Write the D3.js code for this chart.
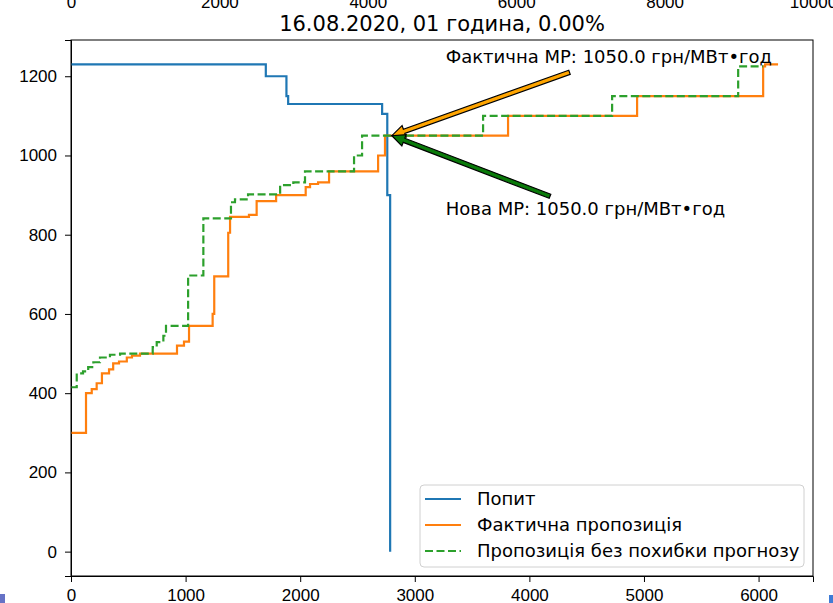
<!DOCTYPE html>
<html lang="uk">
<head>
  <meta charset="UTF-8">
  <title>16.08.2020, 01 година</title>
  <style>
    body { margin: 0; background: #fff; }
    svg { display: block; font-family: "DejaVu Sans", sans-serif; }
    .axis text { font-size: 17px; fill: #000; }
    .axis path, .axis line { stroke: #000; stroke-width: 1; }
  </style>
</head>
<body>
  <svg width="833" height="603"></svg>

  <script src="https://d3js.org/d3.v7.min.js"></script>
  <script>
    // demand curve (step after): quantity, price
    const demandQty   = [0, 1700, 1880, 1895, 2715, 2760, 2785];
    const demandPrice = [1230, 1200, 1150, 1130, 1105, 900, 0];

    // actual supply
    const supplyQty = [0, 131, 181, 224, 270, 332, 368, 419, 487, 532, 602, 925, 986, 1030,
      1236, 1250, 1372, 1388, 1553, 1620, 1790, 2048, 2086, 2156, 2252, 2680, 2740,
      3814, 4940, 6040, 6057, 6170];
    const supplyPrice = [300, 400, 410, 425, 450, 460, 475, 480, 490, 495, 500, 520, 530, 570,
      600, 695, 805, 845, 850, 885, 900, 920, 928, 932, 960, 1000, 1050,
      1100, 1150, 1225, 1230, 1230];

    // supply without forecast error
    const noErrQty = [0, 50, 105, 150, 195, 253, 340, 428, 713, 748, 806, 829, 1022, 1155,
      1396, 1431, 1545, 1825, 1940, 2042, 2470, 2540, 3596, 4722, 5822, 6040];
    const noErrPrice = [415, 450, 455, 466, 478, 490, 497, 500, 516, 529, 545, 570, 697, 841,
      882, 889, 902, 925, 932, 960, 1000, 1050, 1100, 1150, 1225, 1225];

    const xTicks = [0, 1000, 2000, 3000, 4000, 5000, 6000];
    const yTicks = [0, 200, 400, 600, 800, 1000, 1200];
    const topTicks = [0, 2000, 4000, 6000, 8000, 10000];

    const seriesNames = ["Попит", "Фактична пропозиція", "Пропозиція без похибки прогнозу"];
    const title = "16.08.2020, 01 година, 0.00%";

    // annotations: arrow tip, arrow tail, text start (data coords)
    const annotations = [
      { label: "Фактична МР: 1050.0 грн/МВт•год", tip: [2800, 1050], tail: [4350, 1210], at: [3270, 1233], fill: "#ffa500" },
      { label: "Нова МР: 1050.0 грн/МВт•год",     tip: [2800, 1050], tail: [4180, 897],  at: [3270, 850],  fill: "#0a7a0a" }
    ];

    const m = { left: 71, right: 813, top: 40, bottom: 576 };
    const svg = d3.select("svg");

    const x = d3.scaleLinear().domain([0, 6475]).range([m.left, m.right]);
    const y = d3.scaleLinear().domain([-61.5, 1291.5]).range([m.bottom, m.top]);
    const xTop = d3.scaleLinear().domain([0, 10000]).range([m.left, m.right]);

    // cut-off tick labels of the panel above
    svg.append("g")
      .attr("class", "axis")
      .attr("transform", "translate(0,-17)")
      .call(d3.axisBottom(xTop).tickValues(topTicks).tickFormat(d3.format("d")).tickSize(6).tickPadding(7))
      .call(g => g.select(".domain").remove());

    svg.append("text")
      .attr("x", (m.left + m.right) / 2)
      .attr("y", 31)
      .attr("text-anchor", "middle")
      .style("font-size", "21px")
      .text(title);

    // axes
    svg.append("g")
      .attr("class", "axis")
      .attr("transform", `translate(0,${m.bottom})`)
      .call(d3.axisBottom(x).tickValues(xTicks).tickFormat(d3.format("d")).tickSize(6).tickPadding(7));

    svg.append("g")
      .attr("class", "axis")
      .attr("transform", `translate(${m.left},0)`)
      .call(d3.axisLeft(y).tickValues(yTicks).tickFormat(d3.format("d")).tickSize(6).tickPadding(8));

    const plot = svg.append("g");

    const line = d3.line()
      .x(d => x(d[0]))
      .y(d => y(d[1]))
      .curve(d3.curveStepAfter);

    const series = [
      { pts: d3.zip(demandQty, demandPrice), color: "#1f77b4", dash: null },
      { pts: d3.zip(supplyQty, supplyPrice), color: "#ff7f0e", dash: null },
      { pts: d3.zip(noErrQty, noErrPrice),   color: "#2ca02c", dash: "8,3.5" }
    ];

    plot.selectAll(".series")
      .data(series)
      .join("path")
      .attr("class", "series")
      .attr("d", d => line(d.pts))
      .attr("fill", "none")
      .attr("stroke", d => d.color)
      .attr("stroke-width", 2.2)
      .attr("stroke-dasharray", d => d.dash);

    // fancy arrows
    function arrowPath(a) {
      const x0 = x(a.tail[0]), y0 = y(a.tail[1]);
      const x1 = x(a.tip[0]),  y1 = y(a.tip[1]);
      const len = Math.hypot(x1 - x0, y1 - y0);
      const ux = (x1 - x0) / len, uy = (y1 - y0) / len;
      const nx = -uy, ny = ux;
      const w = 2.2, hw = 6, hl = 13;
      const bx = x1 - ux * hl, by = y1 - uy * hl;
      const p = [
        [x0 + nx * w, y0 + ny * w],
        [bx + nx * w, by + ny * w],
        [bx + nx * hw, by + ny * hw],
        [x1, y1],
        [bx - nx * hw, by - ny * hw],
        [bx - nx * w, by - ny * w],
        [x0 - nx * w, y0 - ny * w]
      ];
      return "M" + p.map(q => q.join(",")).join("L") + "Z";
    }

    svg.selectAll(".arrow")
      .data(annotations)
      .join("path")
      .attr("class", "arrow")
      .attr("d", arrowPath)
      .attr("fill", d => d.fill)
      .attr("stroke", "#000")
      .attr("stroke-width", 1.2)
      .attr("stroke-linejoin", "miter");

    svg.selectAll(".anno")
      .data(annotations)
      .join("text")
      .attr("class", "anno")
      .attr("x", d => x(d.at[0]))
      .attr("y", d => y(d.at[1]))
      .style("font-size", "18px")
      .text(d => d.label);

    // frame
    svg.append("rect")
      .attr("x", m.left).attr("y", m.top)
      .attr("width", m.right - m.left).attr("height", m.bottom - m.top)
      .attr("fill", "none").attr("stroke", "#000").attr("stroke-width", 1);

    // legend
    const lg = svg.append("g").attr("transform", "translate(420,485)");
    lg.append("rect")
      .attr("width", 384).attr("height", 82).attr("rx", 4)
      .attr("fill", "#fff").attr("fill-opacity", 0.8)
      .attr("stroke", "#d0d0d0");
    const rows = lg.selectAll(".row")
      .data(series.map((s, i) => ({ ...s, name: seriesNames[i] })))
      .join("g")
      .attr("class", "row")
      .attr("transform", (d, i) => `translate(0,${14 + i * 26})`);
    rows.append("line")
      .attr("x1", 5).attr("x2", 41)
      .attr("stroke", d => d.color).attr("stroke-width", 2.2)
      .attr("stroke-dasharray", d => d.dash);
    rows.append("text")
      .attr("x", 57).attr("y", 6)
      .style("font-size", "18px")
      .text(d => d.name);

    // window edge marks
    svg.append("rect").attr("x", 0).attr("y", 594).attr("width", 5).attr("height", 9).attr("fill", "#6672c6");
    svg.append("rect").attr("x", 829).attr("y", 595).attr("width", 4).attr("height", 8).attr("fill", "#3f7bd6");
  </script>
</body>
</html>
